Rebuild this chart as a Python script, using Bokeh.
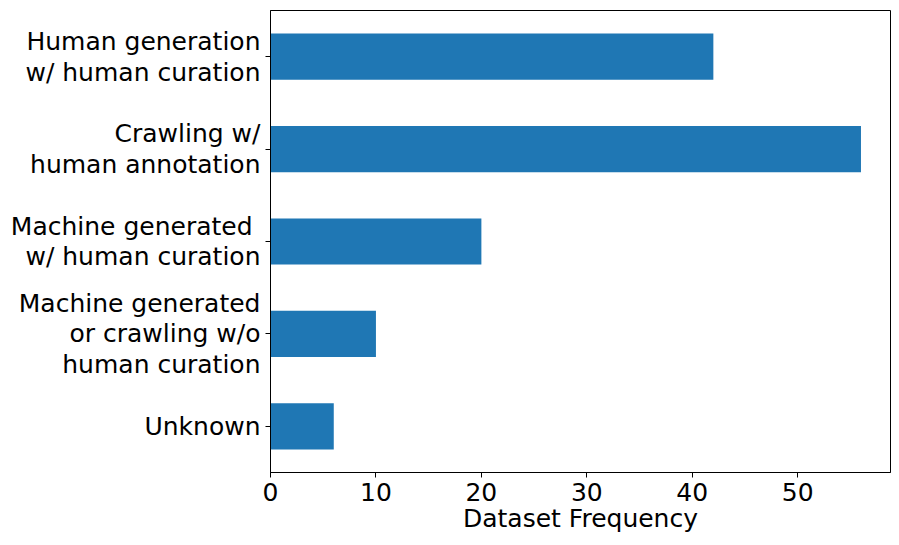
from bokeh.plotting import figure
from bokeh.models import Range1d, FixedTicker, ColumnDataSource
from bokeh.embed import file_html
from bokeh.resources import INLINE

# Data (top to bottom as shown)
categories = [
    "Human generation\nw/ human curation",
    "Crawling w/\nhuman annotation",
    "Machine generated\u00a0\nw/ human curation",
    "Machine generated\nor crawling w/o\nhuman curation",
    "Unknown",
]
frequencies = [42, 56, 20, 10, 6]
x_ticks = [0, 10, 20, 30, 40, 50]

n = len(categories)
positions = [n - 1 - i for i in range(n)]  # top category gets highest y

src = ColumnDataSource(dict(y=positions, v=frequencies))

p = figure(
    frame_width=620, frame_height=462,
    min_border_left=270, min_border_top=10, min_border_right=5, min_border_bottom=0,
    x_range=Range1d(0, 58.8), y_range=Range1d(-0.5, n - 0.5),
    output_backend="svg", toolbar_location=None,
)
p.hbar(y="y", right="v", left=0, height=0.5, source=src,
       fill_color="#1f77b4", line_color=None)

FONT = "DejaVu Sans"
for ax in (p.xaxis[0], p.yaxis[0]):
    ax.axis_line_color = "black"
    ax.major_tick_line_color = "black"
    ax.major_tick_out = 5
    ax.major_tick_in = 0
    ax.minor_tick_line_color = None
    ax.major_label_text_font = FONT
    ax.major_label_text_font_size = "25px"
    ax.major_label_text_color = "black"
    ax.major_label_text_line_height = 1.06

p.xaxis.major_label_standoff = 5
p.yaxis.major_label_standoff = 5
p.xaxis.ticker = FixedTicker(ticks=x_ticks)
p.xaxis.axis_label = "Dataset Frequency"
p.xaxis.axis_label_text_font = FONT
p.xaxis.axis_label_text_font_size = "25px"
p.xaxis.axis_label_text_font_style = "normal"
p.xaxis.axis_label_text_color = "black"
p.xaxis.axis_label_standoff = 0

p.yaxis.ticker = FixedTicker(ticks=positions)
p.yaxis.major_label_overrides = {pos: cat for pos, cat in zip(positions, categories)}

p.xgrid.visible = False
p.ygrid.visible = False
p.outline_line_color = "black"
p.outline_line_width = 1
p.outline_line_alpha = 1
p.background_fill_color = "white"
p.border_fill_color = "white"

open("out.html", "w").write(file_html(p, INLINE))
